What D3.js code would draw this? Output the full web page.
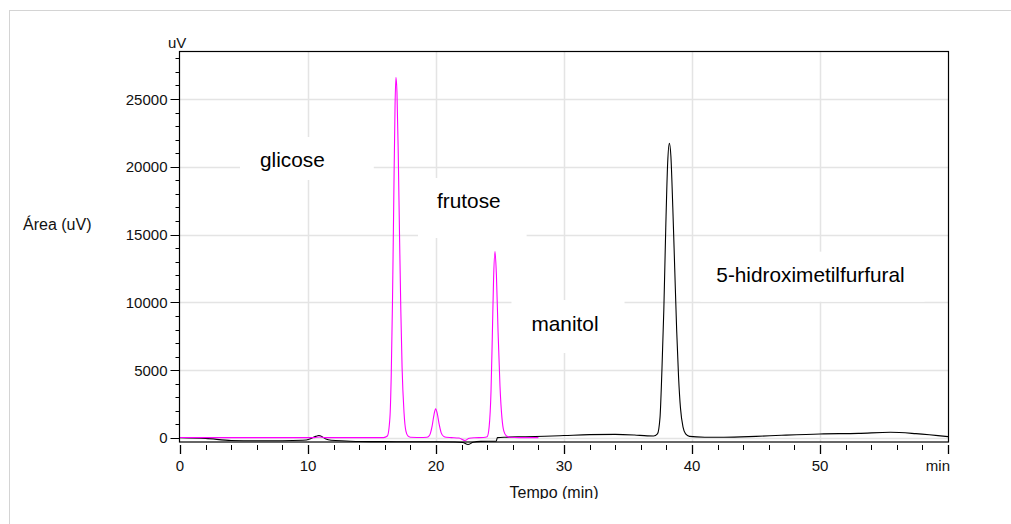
<!DOCTYPE html>
<html><head><meta charset="utf-8">
<script src="https://cdn.jsdelivr.net/npm/d3@7"></script>
<style>
body{margin:0;background:#fff}
text{font-family:"Liberation Sans",Arial,Helvetica,sans-serif;fill:#111}
</style>
</head><body>
<svg id="chart" width="1011" height="524"></svg>
<script>
// ---- data ----
const xTickValues = [0, 10, 20, 30, 40, 50];
const xTickLabels = ["0", "10", "20", "30", "40", "50"];
const yTickValues = [0, 5000, 10000, 15000, 20000, 25000];
const yTickLabels = ["0", "5000", "10000", "15000", "20000", "25000"];

// magenta trace (standard: glicose, frutose)
const standardTime = [0, 3, 6, 9, 10.5, 10.9, 11.3, 13, 15.9, 16.2, 16.4, 16.5, 16.6, 16.7, 16.8, 16.87, 16.95, 17.05, 17.15, 17.25, 17.35, 17.5, 17.65, 17.8, 18.0, 19.0, 19.3, 19.5, 19.7, 19.85, 19.97, 20.1, 20.25, 20.4, 20.6, 20.8, 21.2, 21.8, 22.25, 22.6, 23.0, 23.7, 24.0, 24.15, 24.3, 24.4, 24.5, 24.61, 24.72, 24.85, 25.0, 25.15, 25.3, 25.5, 25.8, 26.5, 28.0];
const standardSignal = [40, 30, 25, 25, 30, 70, 30, 25, 30, 150, 1500, 4500, 10000, 17500, 24500, 26600, 25500, 21000, 15000, 9500, 5200, 1900, 500, 150, 60, 40, 50, 200, 900, 1750, 2150, 1800, 1000, 400, 120, 50, 30, 0, -180, -20, 20, 40, 100, 800, 3500, 7500, 11800, 13750, 12000, 7800, 3800, 1500, 500, 150, 50, 30, 30];

// black trace (sample: 5-hidroximetilfurfural)
const sampleTime = [0, 2, 4, 6, 8, 9.6, 10.2, 10.6, 10.85, 11.1, 11.4, 11.8, 13, 14, 16, 18, 20, 21.5, 22.1, 22.5, 22.9, 23.5, 24.7, 24.8, 25.5, 27, 28.5, 30, 32, 34, 35.5, 36.5, 37.0, 37.3, 37.5, 37.65, 37.8, 37.95, 38.1, 38.23, 38.35, 38.5, 38.65, 38.8, 38.95, 39.1, 39.3, 39.5, 39.8, 41, 42.5, 45, 47, 50, 53, 55.5, 57.5, 60];
const sampleSignal = [20, -30, -180, -200, -200, -170, -50, 120, 180, 100, -80, -170, -220, -260, -270, -280, -280, -290, -330, -480, -320, -250, -230, 30, 60, 90, 130, 180, 250, 270, 220, 160, 150, 300, 1500, 5000, 9500, 15500, 20300, 21730, 20800, 17000, 12500, 8000, 4500, 2200, 800, 300, 120, 60, 50, 120, 200, 300, 340, 420, 320, 100];

// peak annotations (text position in data units)
const peakNames = ["glicose", "frutose", "manitol", "5-hidroximetilfurfural"];
const peakLabelTime = [6.25, 20.08, 27.46, 41.9];
const peakLabelSignal = [19985, 16960, 7890, 11530];

// ---- layout / style ----
const W = 1011, H = 524;
const svg = d3.select("#chart");
const x = d3.scaleLinear().domain([0, 60]).range([180, 948]);
const y = d3.scaleLinear().domain([-295, 28540]).range([442, 51]);
const gridColor = "#e4e4e4";

// outer dotted border
svg.append("rect").attr("x", 9.5).attr("y", 10.5).attr("width", W + 20).attr("height", H + 20)
  .attr("fill", "none").attr("stroke", "#a8a8a8").attr("stroke-dasharray", "1,1");

// grid
const grid = svg.append("g");
grid.selectAll(".gy").data(yTickValues).join("line")
  .attr("x1", x(0)).attr("x2", x(60))
  .attr("y1", d => Math.round(y(d)) + 0.5).attr("y2", d => Math.round(y(d)) + 0.5)
  .attr("stroke", gridColor).attr("stroke-width", 1.5);
grid.selectAll(".gx").data(xTickValues.filter(d => d > 0)).join("line")
  .attr("y1", y.range()[1]).attr("y2", y.range()[0])
  .attr("x1", d => Math.round(x(d)) + 0.5).attr("x2", d => Math.round(x(d)) + 0.5)
  .attr("stroke", gridColor).attr("stroke-width", 1.5);

// label boxes (white, hide gridlines) + text
const pads = [
  {l: 20, r: 49, t: 30, b: 13},
  {l: 19, r: 26, t: 30, b: 30},
  {l: 20, r: 26, t: 31, b: 22},
  {l: 16, r: 20, t: 30, b: 20}
];
const labels = svg.append("g");
peakNames.forEach((name, i) => {
  const g = labels.append("g");
  const rect = g.append("rect").attr("fill", "#fff");
  const t = g.append("text").attr("x", x(peakLabelTime[i])).attr("y", y(peakLabelSignal[i]))
    .attr("font-size", 20.8).style("fill", "#000").text(name);
  const bb = t.node().getBBox();
  const base = y(peakLabelSignal[i]);
  rect.attr("x", bb.x - pads[i].l).attr("y", base - pads[i].t)
    .attr("width", bb.width + pads[i].l + pads[i].r).attr("height", pads[i].t + pads[i].b);
});

// traces
const line = d3.line().x(d => x(d[0])).y(d => y(d[1])).curve(d3.curveMonotoneX);
svg.append("path").datum(sampleTime.map((t, i) => [t, sampleSignal[i]]))
  .attr("d", line).attr("fill", "none").attr("stroke", "#000").attr("stroke-width", 1.1);
svg.append("path").datum(standardTime.map((t, i) => [t, standardSignal[i]]))
  .attr("d", line).attr("fill", "none").attr("stroke", "#ff00ff").attr("stroke-width", 1.1);

// frame
svg.append("rect").attr("x", 179.5).attr("y", 51.5).attr("width", 769).attr("height", 390.5)
  .attr("fill", "none").attr("stroke", "#000").attr("stroke-width", 1.2);

// y axis with minor ticks
const yAxis = svg.append("g").attr("transform", "translate(179.5,0)");
const yMinor = d3.range(-0, 28001, 1000).filter(v => !yTickValues.includes(v));
yAxis.selectAll(".ym").data(yMinor).join("line")
  .attr("x1", -4).attr("x2", 0)
  .attr("y1", d => Math.round(y(d)) + 0.5).attr("y2", d => Math.round(y(d)) + 0.5)
  .attr("stroke", "#000");
yAxis.selectAll(".yM").data(yTickValues).join("line")
  .attr("x1", -9).attr("x2", 0)
  .attr("y1", d => Math.round(y(d)) + 0.5).attr("y2", d => Math.round(y(d)) + 0.5)
  .attr("stroke", "#000");
yAxis.selectAll(".yl").data(yTickValues).join("text")
  .attr("x", -12).attr("y", d => y(d) + 5.5).attr("text-anchor", "end")
  .attr("font-size", 15).text((d, i) => yTickLabels[i]);

// x axis with minor ticks (detached below frame)
const xAxis = svg.append("g").attr("transform", "translate(0,445)");
const xMinor = d3.range(0, 61, 2).filter(v => !xTickValues.includes(v) && v !== 60);
xAxis.selectAll(".xm").data(xMinor).join("line")
  .attr("x1", d => Math.round(x(d)) + 0.5).attr("x2", d => Math.round(x(d)) + 0.5)
  .attr("y1", 0).attr("y2", 5).attr("stroke", "#000");
xAxis.selectAll(".xM").data(xTickValues.concat([60])).join("line")
  .attr("x1", d => Math.round(x(d)) + 0.5).attr("x2", d => Math.round(x(d)) + 0.5)
  .attr("y1", 0).attr("y2", 9).attr("stroke", "#000").attr("stroke-width", 1.3);
xAxis.selectAll(".xl").data(xTickValues).join("text")
  .attr("x", d => x(d)).attr("y", 26).attr("text-anchor", "middle")
  .attr("font-size", 15).text((d, i) => xTickLabels[i]);
xAxis.append("text").attr("x", x(60) + 2).attr("y", 26).attr("text-anchor", "end")
  .attr("font-size", 15).text("min");

// axis titles
svg.append("text").attr("x", 168).attr("y", 48).attr("font-size", 15).text("uV");
svg.append("text").attr("x", 23).attr("y", 230).attr("font-size", 16).text("Área (uV)");
svg.append("defs").append("clipPath").attr("id", "cb")
  .append("rect").attr("x", 0).attr("y", 0).attr("width", W).attr("height", 499);
svg.append("text").attr("x", 554).attr("y", 498).attr("text-anchor", "middle")
  .attr("clip-path", "url(#cb)").attr("font-size", 16).text("Tempo (min)");
</script>
</body></html>
